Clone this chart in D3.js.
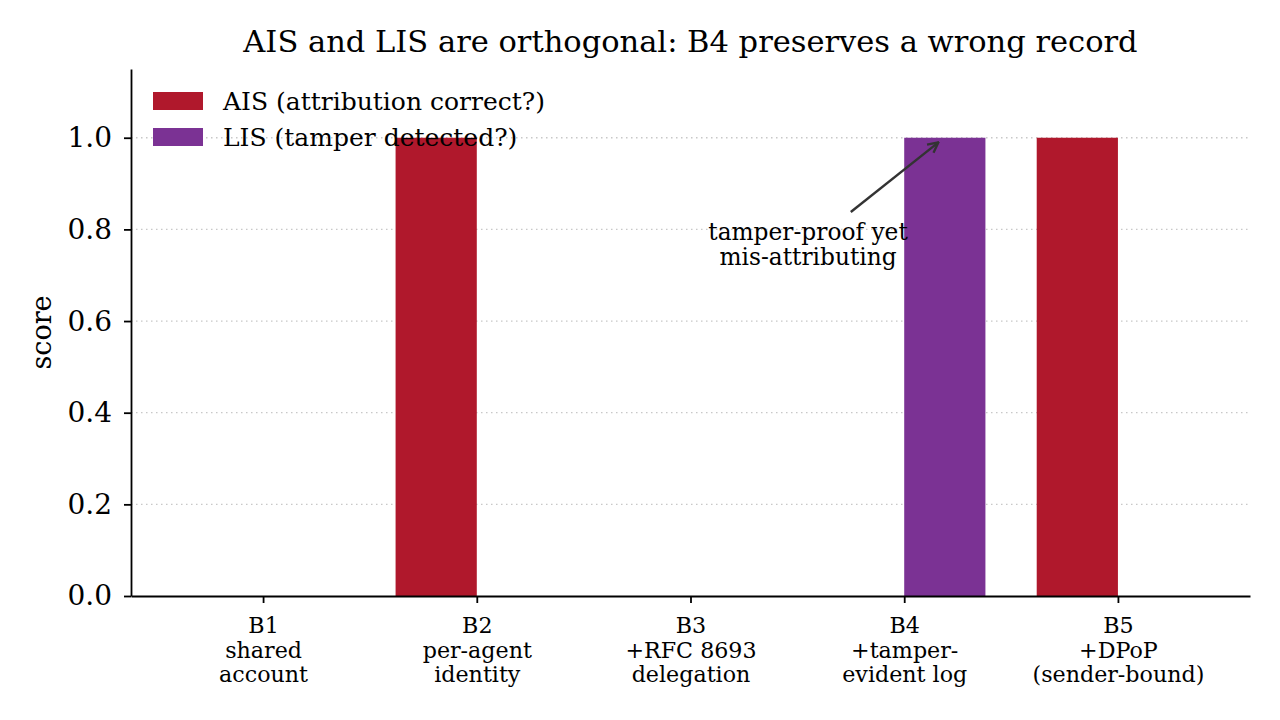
<!DOCTYPE html>
<html>
<head>
<meta charset="utf-8">
<script src="https://cdn.jsdelivr.net/npm/d3@7"></script>
<style>
  body { margin: 0; background: #fff; }
  svg { display: block; font-family: "DejaVu Serif", serif; }
</style>
</head>
<body>
<div id="chart"></div>
<script>
// Chart data
const categories = ["B1", "B2", "B3", "B4", "B5"];
const tickLabels = [
    ["B1", "shared", "account"],
    ["B2", "per-agent", "identity"],
    ["B3", "+RFC 8693", "delegation"],
    ["B4", "+tamper-", "evident log"],
    ["B5", "+DPoP", "(sender-bound)"]
];
const aisValues = [0, 1, 0, 0, 1];
const lisValues = [0, 0, 0, 1, 0];
const seriesNames = ["AIS (attribution correct?)", "LIS (tamper detected?)"];
const yTicks = [0, 0.2, 0.4, 0.6, 0.8, 1.0];

const colors = ["#b0182c", "#7b3294"];
const barWidth = 0.38;

const width = 1280, height = 720;
const margin = { top: 69, right: 30, bottom: 124, left: 131 };
const innerW = width - margin.left - margin.right;
const innerH = height - margin.top - margin.bottom;

const svg = d3.select("#chart")
    .append("svg")
    .attr("width", width)
    .attr("height", height);

const g = svg.append("g")
    .attr("transform", `translate(${margin.left},${margin.top})`);

// Linear x scale on category index, with matplotlib-like margins
const pad = (categories.length - 1 + 2 * barWidth) * 0.05;
const x = d3.scaleLinear()
    .domain([-barWidth - pad, categories.length - 1 + barWidth + pad])
    .range([0, innerW]);

const y = d3.scaleLinear()
    .domain([0, 1.15])
    .range([innerH, 0]);

// Grid lines
g.append("g")
    .selectAll("line")
    .data(yTicks.filter(d => d > 0))
    .enter()
    .append("line")
    .attr("x1", 0)
    .attr("x2", innerW)
    .attr("y1", d => y(d))
    .attr("y2", d => y(d))
    .attr("stroke", "#c8c8c8")
    .attr("stroke-width", 1.3)
    .attr("stroke-dasharray", "1.5,3.5");

// Bars
const rows = categories.map((c, i) => ({ i, ais: aisValues[i], lis: lisValues[i] }));

g.selectAll(".bar-ais")
    .data(rows)
    .enter()
    .append("rect")
    .attr("fill", colors[0])
    .attr("x", d => x(d.i - barWidth))
    .attr("width", x(barWidth) - x(0))
    .attr("y", d => y(d.ais))
    .attr("height", d => innerH - y(d.ais));

g.selectAll(".bar-lis")
    .data(rows)
    .enter()
    .append("rect")
    .attr("fill", colors[1])
    .attr("x", d => x(d.i))
    .attr("width", x(barWidth) - x(0))
    .attr("y", d => y(d.lis))
    .attr("height", d => innerH - y(d.lis));

// Y axis
const yAxis = g.append("g")
    .call(d3.axisLeft(y).tickValues(yTicks).tickFormat(d3.format(".1f")).tickSize(7).tickPadding(12).tickSizeOuter(0));
yAxis.selectAll("text")
    .style("font-family", "DejaVu Serif")
    .style("font-size", "28px")
    .attr("fill", "#000");
yAxis.select(".domain").attr("stroke", "#000").attr("stroke-width", 1.8);
yAxis.selectAll(".tick line").attr("stroke", "#000").attr("stroke-width", 1.8);

// X axis
const xAxis = g.append("g")
    .attr("transform", `translate(0,${innerH})`)
    .call(d3.axisBottom(x).tickValues(d3.range(categories.length)).tickFormat("").tickSize(7).tickSizeOuter(0));
xAxis.select(".domain").attr("stroke", "#000").attr("stroke-width", 1.8);
xAxis.selectAll(".tick line").attr("stroke", "#000").attr("stroke-width", 1.8);

xAxis.selectAll(".tick")
    .append("text")
    .attr("text-anchor", "middle")
    .attr("fill", "#000")
    .style("font-family", "DejaVu Serif")
    .style("font-size", "22.2px")
    .each(function(d) {
        const t = d3.select(this);
        tickLabels[d].forEach((line, k) => {
            t.append("tspan")
                .attr("x", 0)
                .attr("y", 37 + k * 24.5)
                .text(line);
        });
    });

// Y label
svg.append("text")
    .attr("transform", `translate(51,${margin.top + innerH / 2}) rotate(-90)`)
    .attr("text-anchor", "middle")
    .style("font-size", "27px")
    .text("score");

// Title
svg.append("text")
    .attr("x", margin.left + innerW / 2)
    .attr("y", 52)
    .attr("text-anchor", "middle")
    .style("font-size", "30.5px")
    .text("AIS and LIS are orthogonal: B4 preserves a wrong record");

// Legend
const legend = g.append("g").attr("transform", "translate(22,23)");
seriesNames.forEach((name, k) => {
    const row = legend.append("g").attr("transform", `translate(0,${k * 36})`);
    row.append("rect")
        .attr("width", 50)
        .attr("height", 18)
        .attr("fill", colors[k]);
    row.append("text")
        .attr("x", 70)
        .attr("y", 17.5)
        .style("font-size", "25px")
        .text(name);
});

// Annotation
const defs = svg.append("defs");
defs.append("marker")
    .attr("id", "arrow")
    .attr("viewBox", "0 0 10 10")
    .attr("refX", 9)
    .attr("refY", 5)
    .attr("markerWidth", 13)
    .attr("markerHeight", 13)
    .attr("markerUnits", "userSpaceOnUse")
    .attr("orient", "auto")
    .append("path")
    .attr("d", "M1,1 L9,5 L1,9")
    .attr("fill", "none")
    .attr("stroke", "#333")
    .attr("stroke-width", 1.8);

const arrowFrom = { x: 2.75, y: 0.838 };
const arrowTo = { x: 3.16, y: 0.99 };
g.append("line")
    .attr("x1", x(arrowFrom.x))
    .attr("y1", y(arrowFrom.y))
    .attr("x2", x(arrowTo.x))
    .attr("y2", y(arrowTo.y))
    .attr("stroke", "#333")
    .attr("stroke-width", 2.4)
    .attr("marker-end", "url(#arrow)");

const note = g.append("text")
    .attr("text-anchor", "middle")
    .style("font-size", "23.3px");
["tamper-proof yet", "mis-attributing"].forEach((line, k) => {
    note.append("tspan")
        .attr("x", x(2.55))
        .attr("y", y(0.777) + k * 25.5)
        .text(line);
});
</script>
</body>
</html>
